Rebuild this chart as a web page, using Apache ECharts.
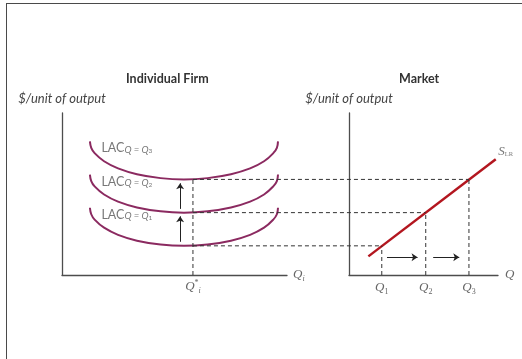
<!DOCTYPE html>
<html>
<head>
<meta charset="utf-8">
<script src="https://cdn.jsdelivr.net/npm/echarts@6/dist/echarts.min.js"></script>
<style>
  html, body { margin: 0; padding: 0; background: #fff; }
  #chart { width: 522px; height: 359px; }
  .frame { position: absolute; left: 6px; top: 3px; right: 0; bottom: 0;
    border-left: 1.5px solid #4a4a4a; border-top: 1.5px solid #4a4a4a; pointer-events: none; }
</style>
</head>
<body>
<div id="chart"></div>
<div class="frame"></div>
<script>
// individual firm: three LAC curves (same x points, different heights)
var lacX  = [1.24, 1.3, 1.45, 1.87, 2.49, 3.33, 4.38, 5.42, 6.47, 7.51, 8.36, 8.98, 9.39, 9.55, 9.6];
var lacQ1 = [4.15, 3.75, 3.42, 2.92, 2.48, 2.12, 1.88, 1.8, 1.88, 2.12, 2.48, 2.92, 3.42, 3.75, 4.15];
var lacQ2 = [6.2, 5.8, 5.47, 4.97, 4.53, 4.17, 3.93, 3.85, 3.93, 4.17, 4.53, 4.97, 5.47, 5.8, 6.2];
var lacQ3 = [8.25, 7.85, 7.52, 7.02, 6.58, 6.22, 5.98, 5.9, 5.98, 6.22, 6.58, 7.02, 7.52, 7.85, 8.25];
var lacIdx = ['1', '2', '3'];
var qStar = 5.82;
var firmArrowX = 5.25;
var firmArrowY = [[2.05, 3.62], [4.08, 5.66]];

// market
var marketQ = [2.2, 5.15, 8.05];
var marketP = [1.8, 3.85, 5.9];
var supplyX = [1.3, 9.85];
var supplyY = [1.15, 7.15];
var marketArrowY = 1.1;
var marketArrowX = [[2.55, 4.6], [5.65, 7.4]];

var SANS = 'Lato, "Open Sans", sans-serif';
var SERIF = '"Liberation Serif", "DejaVu Serif", serif';
var AXIS = '#4d4d4d';
var CURVE = '#8b2a60';
var DASH = { color: '#333', width: 1, type: [4, 3] };

function zip(xs, ys) { return xs.map(function (x, i) { return [x, ys[i]]; }); }

var chart = echarts.init(document.getElementById('chart'));

function lacSeries(ys) {
  return {
    type: 'line', xAxisIndex: 0, yAxisIndex: 0, smooth: 0.4,
    showSymbol: false, silent: true,
    lineStyle: { color: CURVE, width: 2 },
    data: zip(lacX, ys)
  };
}

var lacLabelRich = {
  a: { fontFamily: SANS, fontSize: 12.5, color: '#555', lineHeight: 15, verticalAlign: 'bottom' },
  b: { fontFamily: SANS, fontStyle: 'italic', fontSize: 9.5, color: '#555', lineHeight: 12, verticalAlign: 'bottom' },
  c: { fontFamily: SANS, fontSize: 6.5, color: '#555', lineHeight: 10, verticalAlign: 'bottom' }
};

var lacCurves = [lacQ1, lacQ2, lacQ3];

var series = [
  lacSeries(lacQ1), lacSeries(lacQ2), lacSeries(lacQ3),
  {
    // LAC labels, anchored on the left tip of each curve
    type: 'scatter', xAxisIndex: 0, yAxisIndex: 0, silent: true,
    symbolSize: 1, itemStyle: { color: 'rgba(0,0,0,0)' },
    data: lacCurves.map(function (ys, i) {
      return {
        value: [lacX[0], ys[0]],
        label: {
          show: true, position: 'right', offset: [6, 6],
          formatter: '{a|LAC}{b|Q = Q}{c|' + lacIdx[i] + '}',
          rich: lacLabelRich
        }
      };
    })
  },
  {
    // Q* dashed line
    type: 'line', xAxisIndex: 0, yAxisIndex: 0, showSymbol: false, silent: true,
    lineStyle: DASH,
    data: [[qStar, 0], [qStar, marketP[2]]]
  },
  {
    type: 'lines', coordinateSystem: 'cartesian2d', xAxisIndex: 0, yAxisIndex: 0,
    silent: true, symbol: ['none', 'arrow'], symbolSize: 6,
    lineStyle: { color: '#222', width: 1, opacity: 1 },
    data: firmArrowY.map(function (p) { return { coords: [[firmArrowX, p[0]], [firmArrowX, p[1]]] }; })
  },
  {
    // long-run supply
    type: 'line', xAxisIndex: 1, yAxisIndex: 1, showSymbol: false, silent: true,
    lineStyle: { color: '#b3161f', width: 2.5 },
    data: zip(supplyX, supplyY)
  },
  {
    type: 'scatter', xAxisIndex: 1, yAxisIndex: 1, silent: true,
    symbolSize: 1, itemStyle: { color: 'rgba(0,0,0,0)' },
    data: [{
      value: [supplyX[1], supplyY[1]],
      label: {
        show: true, position: 'right', offset: [-3, -9],
        formatter: '{s|S}{lr|LR}',
        rich: {
          s: { fontFamily: SERIF, fontStyle: 'italic', fontSize: 13, color: '#555', lineHeight: 15, verticalAlign: 'bottom' },
          lr: { fontFamily: SERIF, fontSize: 6.5, color: '#555', lineHeight: 10, verticalAlign: 'bottom' }
        }
      }
    }]
  },
  {
    type: 'lines', coordinateSystem: 'cartesian2d', xAxisIndex: 1, yAxisIndex: 1,
    silent: true, symbol: ['none', 'arrow'], symbolSize: 6,
    lineStyle: { color: '#222', width: 1, opacity: 1 },
    data: marketArrowX.map(function (p) { return { coords: [[p[0], marketArrowY], [p[1], marketArrowY]] }; })
  }
];

// market vertical dashed lines
marketQ.forEach(function (q, i) {
  series.push({
    type: 'line', xAxisIndex: 1, yAxisIndex: 1, showSymbol: false, silent: true,
    lineStyle: DASH,
    data: [[q, 0], [q, marketP[i]]]
  });
});

function xAxisBase(idx) {
  return {
    gridIndex: idx, type: 'value', min: 0, max: 10,
    axisLine: { show: true, lineStyle: { color: AXIS, width: 1.3 } },
    axisTick: { show: false },
    splitLine: { show: false },
    nameLocation: 'end', nameGap: 6
  };
}
function yAxisBase(idx) {
  return {
    gridIndex: idx, type: 'value', min: 0, max: 10,
    axisLine: { show: true, lineStyle: { color: AXIS, width: 1.3 } },
    axisTick: { show: false },
    axisLabel: { show: false },
    splitLine: { show: false },
    name: '$/unit of output', nameLocation: 'end', nameGap: 8,
    nameTextStyle: { fontFamily: SANS, fontStyle: 'italic', fontSize: 13, color: '#444' }
  };
}

var qRich = {
  q: { fontFamily: SERIF, fontStyle: 'italic', fontSize: 13, color: '#666', lineHeight: 16 },
  sup: { fontFamily: SERIF, fontSize: 8, color: '#666', lineHeight: 16, verticalAlign: 'top' },
  sub: { fontFamily: SERIF, fontStyle: 'italic', fontSize: 8, color: '#666', lineHeight: 10, verticalAlign: 'bottom' },
  subn: { fontFamily: SERIF, fontSize: 8, color: '#666', lineHeight: 10, verticalAlign: 'bottom' }
};

var xLeft = xAxisBase(0);
xLeft.name = '{q|Q}{sub|i}';
xLeft.nameTextStyle = { rich: qRich };
xLeft.axisLabel = {
  show: true, margin: 4, customValues: [qStar],
  formatter: function () { return '{q|Q}{sup|*}{sub|i}'; },
  rich: qRich
};

var xRight = xAxisBase(1);
xRight.name = '{q|Q}';
xRight.nameGap = 7;
xRight.nameTextStyle = { rich: qRich };
xRight.axisLabel = {
  show: true, margin: 5, customValues: marketQ,
  formatter: function (v) { return '{q|Q}{subn|' + (marketQ.indexOf(v) + 1) + '}'; },
  rich: qRich
};

// hidden axes spanning both panels, only used for the cross-panel dashed lines
var xSpan = { gridIndex: 2, type: 'value', min: 0, max: 10, show: false };
var ySpan = { gridIndex: 2, type: 'value', min: 0, max: 10, show: false };

chart.setOption({
  animation: false,
  backgroundColor: '#fff',
  title: [
    { text: 'Individual Firm', left: 121, top: 67,
      textStyle: { fontFamily: SANS, fontWeight: 'bold', fontSize: 12.5, color: '#333' } },
    { text: 'Market', left: 394, top: 67,
      textStyle: { fontFamily: SANS, fontWeight: 'bold', fontSize: 12.5, color: '#333' } }
  ],
  grid: [
    { left: 62, top: 113, width: 225, height: 162 },
    { left: 349, top: 113, width: 149, height: 162 },
    { left: 62, top: 113, width: 436, height: 162 }
  ],
  xAxis: [xLeft, xRight, xSpan],
  yAxis: [yAxisBase(0), yAxisBase(1), ySpan],
  series: series
});

// horizontal dashed lines from Q* across to the supply curve, mapped through the panels' scales
var xStartSpan = chart.convertFromPixel({ xAxisIndex: 2 }, chart.convertToPixel({ xAxisIndex: 0 }, qStar));
var connectors = marketQ.map(function (q, i) {
  var xEndSpan = chart.convertFromPixel({ xAxisIndex: 2 }, chart.convertToPixel({ xAxisIndex: 1 }, q));
  return {
    type: 'line', xAxisIndex: 2, yAxisIndex: 2, showSymbol: false, silent: true,
    lineStyle: DASH,
    data: [[xStartSpan, marketP[i]], [xEndSpan, marketP[i]]]
  };
});
chart.setOption({ series: series.concat(connectors) });
</script>
</body>
</html>
